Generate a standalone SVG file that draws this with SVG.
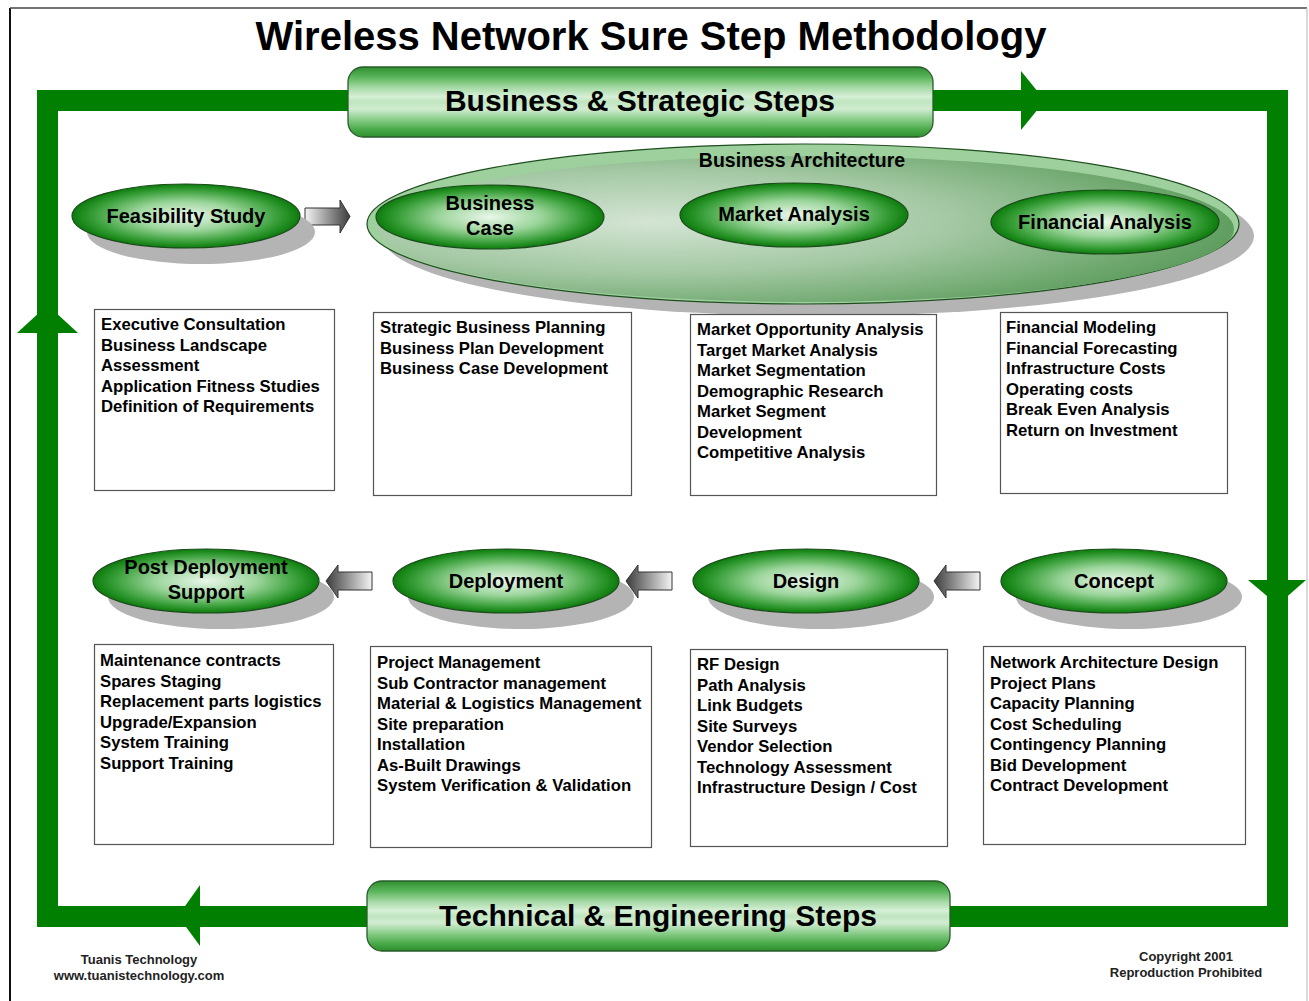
<svg xmlns="http://www.w3.org/2000/svg" width="1309" height="1001" viewBox="0 0 1309 1001">
<defs>
<linearGradient id="bar" x1="0" y1="0" x2="0" y2="1">
<stop offset="0" stop-color="#2f8f2f"/>
<stop offset="0.15" stop-color="#5cb65c"/>
<stop offset="0.3" stop-color="#a8daa8"/>
<stop offset="0.42" stop-color="#d6efd6"/>
<stop offset="0.5" stop-color="#bfe5bf"/>
<stop offset="0.6" stop-color="#d2edd2"/>
<stop offset="0.75" stop-color="#88cc88"/>
<stop offset="0.9" stop-color="#46a846"/>
<stop offset="1" stop-color="#2f8f2f"/>
</linearGradient>
<radialGradient id="node" cx="0.5" cy="0.5" r="0.5">
<stop offset="0" stop-color="#eaf7ea"/>
<stop offset="0.45" stop-color="#9cd59c"/>
<stop offset="0.8" stop-color="#3aa03a"/>
<stop offset="1" stop-color="#0c7c0c"/>
</radialGradient>
<radialGradient id="arch" cx="0.32" cy="0.45" r="0.7">
<stop offset="0" stop-color="#d4e4d4"/>
<stop offset="0.5" stop-color="#a4c8a4"/>
<stop offset="1" stop-color="#5c9c5c"/>
</radialGradient>
<linearGradient id="arrR" x1="0" y1="0" x2="1" y2="0">
<stop offset="0" stop-color="#f4f4f4"/>
<stop offset="1" stop-color="#3c3c3c"/>
</linearGradient>
<linearGradient id="arrL" x1="1" y1="0" x2="0" y2="0">
<stop offset="0" stop-color="#f4f4f4"/>
<stop offset="1" stop-color="#3c3c3c"/>
</linearGradient>
<style>
text{font-family:"Liberation Sans",Arial,sans-serif;font-weight:bold;fill:#000}
.title{font-size:40px}
.bar{font-size:30px}
.lbl{font-size:20px}
.list{font-size:16.7px}
.foot{font-size:13px;fill:#222}
.box{fill:#fff;stroke:#555;stroke-width:1.2}
.shadow{fill:#b4b4b4}
.node{fill:url(#node);stroke:#1c4a1c;stroke-width:1.2}
.band{fill:url(#bar);stroke:#2a5a2a;stroke-width:1.3}
.green{fill:#007f00}
</style>
</defs>
<rect x="0" y="0" width="1309" height="1001" fill="#fff"/>
<line x1="10" y1="8" x2="10" y2="1001" stroke="#111" stroke-width="2"/>
<line x1="10" y1="8" x2="1307" y2="8" stroke="#444" stroke-width="1.5"/>
<line x1="1307" y1="8" x2="1307" y2="1001" stroke="#ccc" stroke-width="1.5"/>

<text class="title" x="651" y="50" text-anchor="middle">Wireless Network Sure Step Methodology</text>

<g id="connectors">
<rect x="47.5" y="100.5" width="1230" height="816" fill="none" stroke="#007f00" stroke-width="21"/>
<polygon class="green" points="1021,71 1045,100.5 1021,130"/>
<polygon class="green" points="1248,580 1306,580 1277.5,605"/>
<polygon class="green" points="200,885 178,916 200,946"/>
<polygon class="green" points="17,333 47.5,305 78,333"/>
<path d="M305,208 H340 V200 L350,216.5 L340,233 V225 H305 Z" fill="url(#arrR)" stroke="#333" stroke-width="1"/>
<path d="M372,572 H338 V565 L326,581 L338,598 V590 H372 Z" fill="url(#arrL)" stroke="#333" stroke-width="1"/>
<path d="M672,572 H638 V565 L626,581 L638,598 V590 H672 Z" fill="url(#arrL)" stroke="#333" stroke-width="1"/>
<path d="M980,572 H946 V565 L934,581 L946,598 V590 H980 Z" fill="url(#arrL)" stroke="#333" stroke-width="1"/>
</g>

<g id="business-strategic">
<rect class="band" x="348" y="67" width="585" height="70" rx="15"/>
<text class="bar" x="640" y="111" text-anchor="middle">Business &amp; Strategic Steps</text>
</g>

<g id="technical-engineering">
<rect class="band" x="367" y="881" width="583" height="70" rx="15"/>
<text class="bar" x="658" y="926" text-anchor="middle">Technical &amp; Engineering Steps</text>
</g>

<g id="business-architecture">
<ellipse class="shadow" cx="818" cy="236" rx="436" ry="80"/>
<ellipse cx="803" cy="224" rx="436" ry="80" fill="#9ed09e" stroke="#1e4e1e" stroke-width="1.2"/>
<ellipse cx="806" cy="229" rx="428" ry="73" fill="url(#arch)"/>
<text class="lbl" x="802" y="167" text-anchor="middle" style="font-size:19.5px">Business Architecture</text>
</g>

<g id="feasibility-study">
<ellipse class="shadow" cx="201" cy="232" rx="114" ry="32"/>
<ellipse class="node" cx="186" cy="216" rx="114" ry="32"/>
<text class="lbl" x="186" y="223" text-anchor="middle">Feasibility Study</text>
</g>

<g id="business-case">
<ellipse class="node" cx="490" cy="217" rx="114" ry="32"/>
<text class="lbl" x="490" y="210" text-anchor="middle">Business</text>
<text class="lbl" x="490" y="235" text-anchor="middle">Case</text>
</g>

<g id="market-analysis">
<ellipse class="node" cx="794" cy="215" rx="114" ry="32"/>
<text class="lbl" x="794" y="221" text-anchor="middle">Market Analysis</text>
</g>

<g id="financial-analysis">
<ellipse class="node" cx="1105" cy="222" rx="114" ry="32"/>
<text class="lbl" x="1105" y="229" text-anchor="middle">Financial Analysis</text>
</g>

<g id="post-deployment-support">
<ellipse class="shadow" cx="221" cy="597" rx="113" ry="32"/>
<ellipse class="node" cx="206" cy="581" rx="113" ry="32"/>
<text class="lbl" x="206" y="574" text-anchor="middle">Post Deployment</text>
<text class="lbl" x="206" y="599" text-anchor="middle">Support</text>
</g>

<g id="deployment">
<ellipse class="shadow" cx="521" cy="597" rx="113" ry="32"/>
<ellipse class="node" cx="506" cy="581" rx="113" ry="32"/>
<text class="lbl" x="506" y="588" text-anchor="middle">Deployment</text>
</g>

<g id="design">
<ellipse class="shadow" cx="821" cy="597" rx="113" ry="32"/>
<ellipse class="node" cx="806" cy="581" rx="113" ry="32"/>
<text class="lbl" x="806" y="588" text-anchor="middle">Design</text>
</g>

<g id="concept">
<ellipse class="shadow" cx="1129" cy="597" rx="113" ry="32"/>
<ellipse class="node" cx="1114" cy="581" rx="113" ry="32"/>
<text class="lbl" x="1114" y="588" text-anchor="middle">Concept</text>
</g>

<g id="box-feasibility">
<rect class="box" x="94.5" y="309.5" width="240" height="181"/>
<text class="list" x="101" y="330">Executive Consultation</text>
<text class="list" x="101" y="350.5">Business Landscape</text>
<text class="list" x="101" y="371">Assessment</text>
<text class="list" x="101" y="391.5">Application Fitness Studies</text>
<text class="list" x="101" y="412">Definition of Requirements</text>
</g>

<g id="box-business-case">
<rect class="box" x="373.5" y="312.5" width="258" height="183"/>
<text class="list" x="380" y="333">Strategic Business Planning</text>
<text class="list" x="380" y="353.5">Business Plan Development</text>
<text class="list" x="380" y="374">Business Case Development</text>
</g>

<g id="box-market">
<rect class="box" x="690.5" y="314.5" width="246" height="181"/>
<text class="list" x="697" y="335">Market Opportunity Analysis</text>
<text class="list" x="697" y="355.5">Target Market Analysis</text>
<text class="list" x="697" y="376">Market Segmentation</text>
<text class="list" x="697" y="396.5">Demographic Research</text>
<text class="list" x="697" y="417">Market Segment</text>
<text class="list" x="697" y="437.5">Development</text>
<text class="list" x="697" y="458">Competitive Analysis</text>
</g>

<g id="box-financial">
<rect class="box" x="1000.5" y="312.5" width="227" height="181"/>
<text class="list" x="1006" y="333">Financial Modeling</text>
<text class="list" x="1006" y="353.5">Financial Forecasting</text>
<text class="list" x="1006" y="374">Infrastructure Costs</text>
<text class="list" x="1006" y="394.5">Operating costs</text>
<text class="list" x="1006" y="415">Break Even Analysis</text>
<text class="list" x="1006" y="435.5">Return on Investment</text>
</g>

<g id="box-post-deployment">
<rect class="box" x="94.5" y="644.5" width="239" height="200"/>
<text class="list" x="100" y="666">Maintenance contracts</text>
<text class="list" x="100" y="686.5">Spares Staging</text>
<text class="list" x="100" y="707">Replacement parts logistics</text>
<text class="list" x="100" y="727.5">Upgrade/Expansion</text>
<text class="list" x="100" y="748">System Training</text>
<text class="list" x="100" y="768.5">Support Training</text>
</g>

<g id="box-deployment">
<rect class="box" x="370.5" y="646.5" width="281" height="201"/>
<text class="list" x="377" y="668">Project Management</text>
<text class="list" x="377" y="688.5">Sub Contractor management</text>
<text class="list" x="377" y="709">Material &amp; Logistics Management</text>
<text class="list" x="377" y="729.5">Site preparation</text>
<text class="list" x="377" y="750">Installation</text>
<text class="list" x="377" y="770.5">As-Built Drawings</text>
<text class="list" x="377" y="791">System Verification &amp; Validation</text>
</g>

<g id="box-design">
<rect class="box" x="690.5" y="649.5" width="257" height="197"/>
<text class="list" x="697" y="670">RF Design</text>
<text class="list" x="697" y="690.5">Path Analysis</text>
<text class="list" x="697" y="711">Link Budgets</text>
<text class="list" x="697" y="731.5">Site Surveys</text>
<text class="list" x="697" y="752">Vendor Selection</text>
<text class="list" x="697" y="772.5">Technology Assessment</text>
<text class="list" x="697" y="793">Infrastructure Design / Cost</text>
</g>

<g id="box-concept">
<rect class="box" x="983.5" y="646.5" width="262" height="198"/>
<text class="list" x="990" y="668">Network Architecture Design</text>
<text class="list" x="990" y="688.5">Project Plans</text>
<text class="list" x="990" y="709">Capacity Planning</text>
<text class="list" x="990" y="729.5">Cost Scheduling</text>
<text class="list" x="990" y="750">Contingency Planning</text>
<text class="list" x="990" y="770.5">Bid Development</text>
<text class="list" x="990" y="791">Contract Development</text>
</g>

<g id="footer">
<text class="foot" x="139" y="964" text-anchor="middle">Tuanis Technology</text>
<text class="foot" x="139" y="980" text-anchor="middle">www.tuanistechnology.com</text>
<text class="foot" x="1186" y="961" text-anchor="middle">Copyright 2001</text>
<text class="foot" x="1186" y="977" text-anchor="middle">Reproduction Prohibited</text>
</g>
</svg>
